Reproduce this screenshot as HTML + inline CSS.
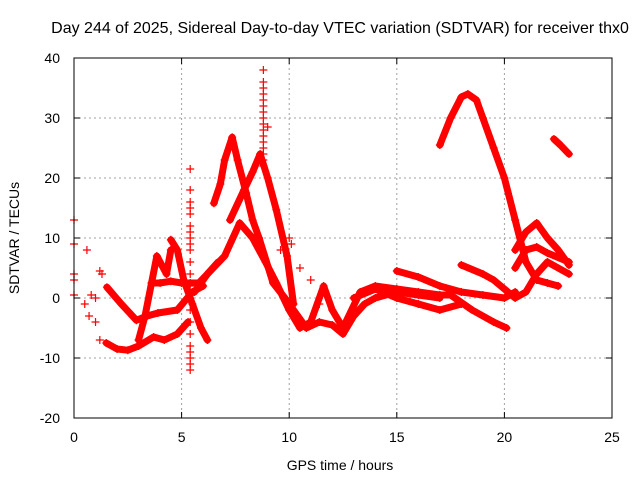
<!DOCTYPE html>
<html><head><meta charset="utf-8"><style>
body{margin:0;background:#fff;}
svg{display:block;font-family:"Liberation Sans",sans-serif;}
</style></head><body>
<svg id="chart" width="640" height="480" viewBox="0 0 640 480" xmlns="http://www.w3.org/2000/svg">
<rect width="640" height="480" fill="#fff"/>
<text x="340" y="33" font-size="16" text-anchor="middle" fill="#000">Day 244 of 2025, Sidereal Day-to-day VTEC variation (SDTVAR) for receiver thx0</text>
<text x="340" y="470" font-size="14" text-anchor="middle">GPS time / hours</text>
<text transform="translate(19,238) rotate(-90)" font-size="14" text-anchor="middle">SDTVAR / TECUs</text>
<g id="grid"></g><g id="marks"></g><g id="axes"></g>
</svg>
<script>
const xTicks=[0,5,10,15,20,25];
const yTicks=[-20,-10,0,10,20,30,40];
const tA=[6.5,6.8,7.0,7.35,7.6,8.0,8.3,8.6,9.25,9.8,10.2,10.8,11.4,12.0,12.5,13.0,13.5,14.0,15.0,16.0,17.0];
const vA=[15.8,19,23,26.8,23,17.5,13,10,2.5,0,-2,-5,-4,-4.5,-6,-3,-1,0,1,0.5,0];
const tB=[7.25,7.9,8.3,8.65,9.0,9.4,9.9,10.2];
const vB=[13,18,21,24,20,14.7,7,-1];
const tC=[5.6,6.2,7.0,7.7,8.3,8.9,9.4,10.0,10.5,11.0,11.6,12.0,12.5,13.3,14.0,15.0,16.0,17.0,17.5,18.5,19.5,20.1];
const vC=[1,4,7,12.5,10,6,2.5,-2,-5,-4,2,-2,-5,1,2,1.5,1,0.5,0.5,-2,-4,-5];
const tD=[1.5,2.0,2.5,3.0,3.7,4.2,4.8,5.3];
const vD=[-7.5,-8.5,-8.7,-8,-6.5,-7,-6,-4];
const tE=[1.53,2.2,2.9,3.4,3.9,4.8,5.5,6.0];
const vE=[1.8,-1,-3.7,-3,-2.5,-2,1,2];
const tF=[4.5,4.8,5.1,5.5,5.9,6.2];
const vF=[9.7,8,3,-1,-5,-7];
const tG=[3.6,4.0,4.5,5.0,5.4,5.8,6.2,6.7];
const vG=[2.5,2.5,2.8,2.5,2.5,2.5,4,6];
const tH=[3.0,3.3,3.85,4.3,4.5];
const vH=[-7,-3,7,4,8];
const tI=[17.0,17.5,18.0,18.3,18.7,19.0,19.5,20.0,20.5,21.0,21.5,22.0,22.5];
const vI=[25.5,30,33.5,34,33,30,25,20,13,6,3,2.5,2];
const tJ=[22.3,22.6,23.0];
const vJ=[26.5,25.5,24];
const tK=[15.0,16.0,17.0,18.0,19.0,20.0,20.5];
const vK=[4.5,3.5,2,1,0.5,0,1];
const tL=[18.0,19.0,19.5,20.0,20.5,21.0,21.5,22.0,23.0];
const vL=[5.5,4,3,1.5,0,1,4,6,4];
const tM=[20.5,21.0,21.5,22.0,22.5,23.0];
const vM=[8,11,12.5,10,8,5.5];
const tN=[20.5,21.0,21.5,22.0,23.0];
const vN=[5,8,8.5,7.5,6];
const tO=[13.0,14.0,15.0,16.0,17.0,18.0];
const vO=[0,1.5,0,-1,-2,-1];
const tS1=[5.4,5.4,5.4,5.4,5.4,5.4,5.4,5.4,5.4,5.4,5.4,5.4,5.4,5.4,5.4,5.4,5.4,5.4,5.4,5.4,5.4,5.4];
const vS1=[-12,-11,-10,-9,-8,-6,-4,-2,0,2,4,6,8,9,10,11,12,14,15,16,18,21.5];
const tS2=[8.8,8.8,8.8,8.8,8.8,8.8,8.8,8.8,8.8,8.8,8.8,8.8,8.8,8.8,8.8,8.8,9.0];
const vS2=[22,23,24,25,26,27,28,29,30,31,32,33,34,35,36,38,28.5];
const tP=[0,0,0,0,0,0.6,0.5,0.7,1.0,1.2,1.2,1.3,0.8,1.0,10.5,11.0,11.4,10.0,10.1,9.6];
const vP=[13,9,4,3,0.5,8,-1,-3,-4,-7,4.5,4,0.5,0,5,3,-1,10,9,8];
const lines=[[tA,vA],[tB,vB],[tC,vC],[tD,vD],[tE,vE],[tF,vF],[tG,vG],[tH,vH],[tI,vI],[tJ,vJ],[tK,vK],[tL,vL],[tM,vM],[tN,vN],[tO,vO]];
const pointSets=[[tS1,vS1],[tS2,vS2],[tP,vP]];
const X0=74,X1=612,Y0=418,Y1=58;
function xs(t){return X0+(t-0)/(25-0)*(X1-X0);}
function ys(v){return Y0-(v+20)/60*(Y0-Y1);}
const NS="http://www.w3.org/2000/svg";
function mk(tag,attrs,parent){const e=document.createElementNS(NS,tag);for(const k in attrs)e.setAttribute(k,attrs[k]);parent.appendChild(e);return e;}
const grid=document.getElementById('grid'),marks=document.getElementById('marks'),axes=document.getElementById('axes');
xTicks.forEach(t=>{
 if(t>0&&t<25){const g=mk('line',{x1:xs(t),x2:xs(t),y1:Y1,y2:Y0,stroke:'#a0a0a0','stroke-dasharray':'2,3'},grid);
 
 }
 const l=mk('text',{x:xs(t),y:Y0+24,'font-size':14,'text-anchor':'middle'},axes);l.textContent=t;
 
 
 mk('line',{x1:xs(t),x2:xs(t),y1:Y0,y2:Y0-6,stroke:'#000'},axes);
 mk('line',{x1:xs(t),x2:xs(t),y1:Y1,y2:Y1+6,stroke:'#000'},axes);
});
yTicks.forEach(v=>{
 if(v>-20&&v<40){const g=mk('line',{x1:X0,x2:X1,y1:ys(v),y2:ys(v),stroke:'#a0a0a0','stroke-dasharray':'2,3'},grid);
 
 }
 const l=mk('text',{x:X0-14,y:ys(v)+5,'font-size':14,'text-anchor':'end'},axes);l.textContent=v;
 
 
 mk('line',{x1:X0,x2:X0+6,y1:ys(v),y2:ys(v),stroke:'#000'},axes);
 mk('line',{x1:X1,x2:X1-6,y1:ys(v),y2:ys(v),stroke:'#000'},axes);
});
const frame=mk('rect',{x:X0,y:Y1,width:X1-X0,height:Y0-Y1,fill:'none',stroke:'#000'},axes);


function plus(x,y){mk('path',{d:`M${x-4} ${y}H${x+4}M${x} ${y-4}V${y+4}`,stroke:'#f00','stroke-width':1.2},marks);}
lines.forEach(([t,v])=>{
 const pl=mk('polyline',{points:t.map((tt,i)=>xs(tt)+','+ys(v[i])).join(' '),fill:'none',stroke:'#f00','stroke-width':7,'stroke-linejoin':'round','stroke-linecap':'round'},marks);
 
 
 t.forEach((tt,i)=>plus(xs(tt),ys(v[i])));
});
pointSets.forEach(([t,v])=>{t.forEach((tt,i)=>plus(xs(tt),ys(v[i])));});
</script>
</body></html>
